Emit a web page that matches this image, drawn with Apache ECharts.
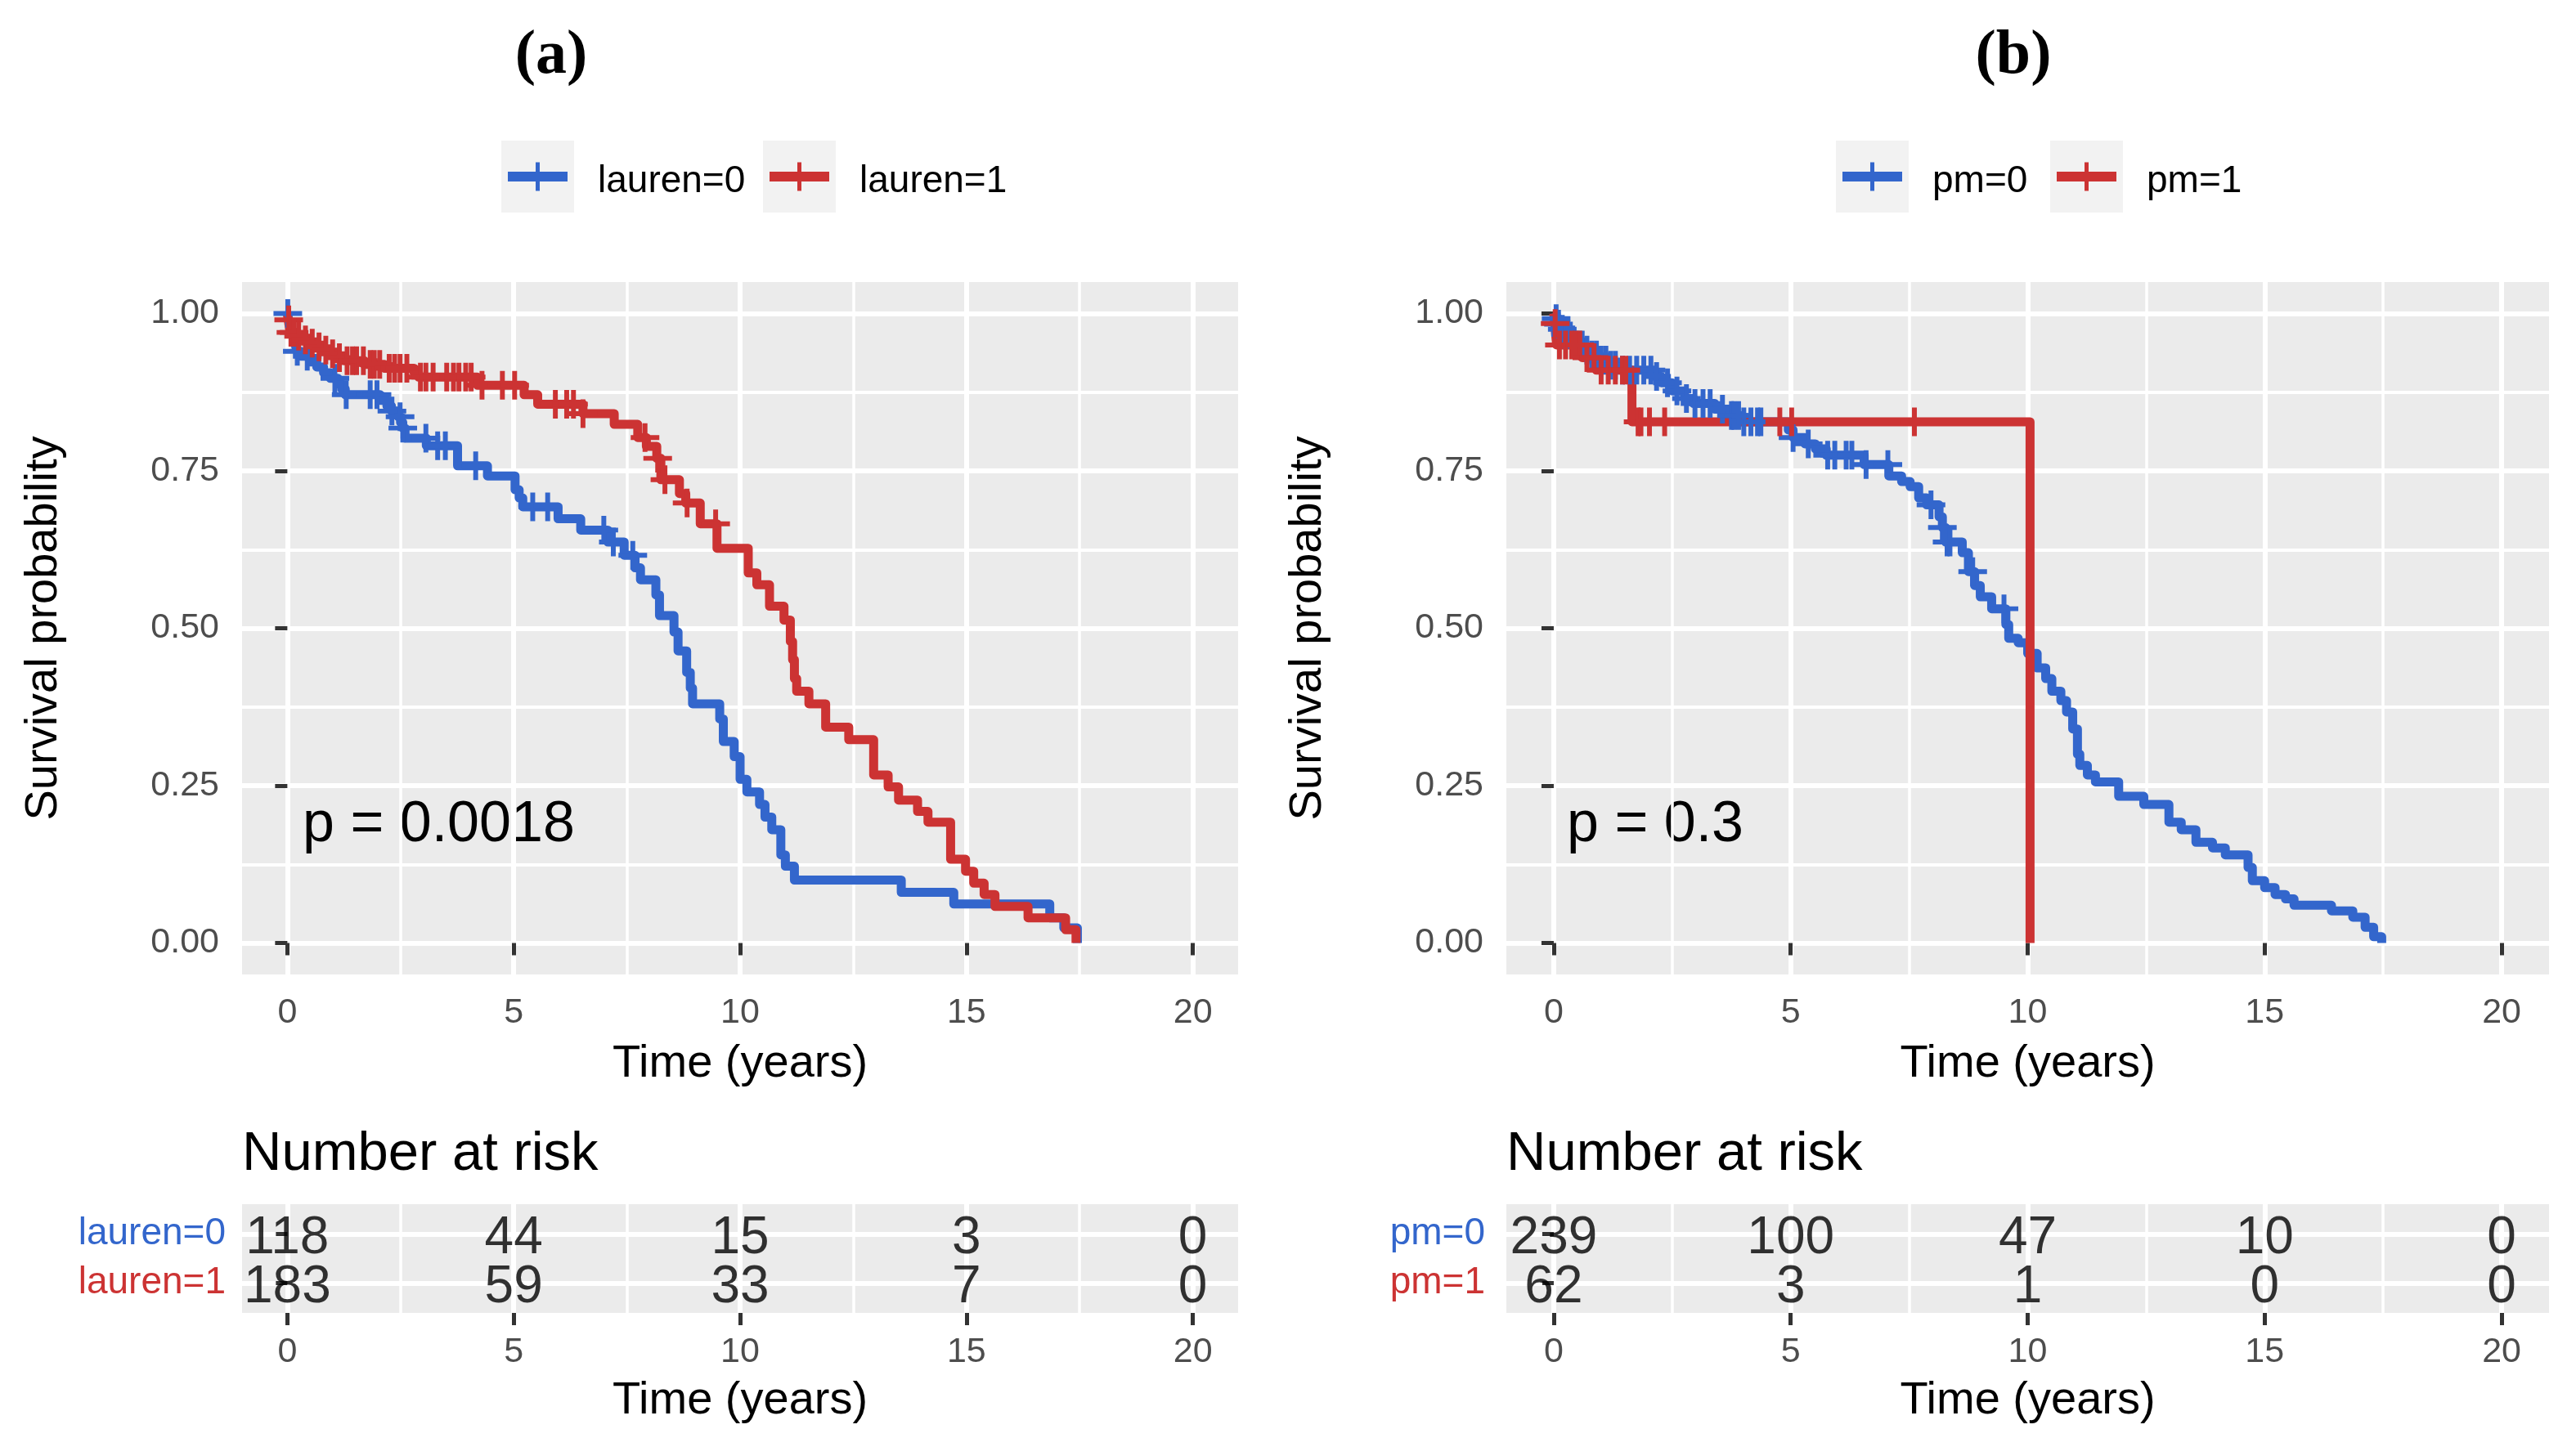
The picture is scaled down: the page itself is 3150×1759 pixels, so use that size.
<!DOCTYPE html>
<html>
<head>
<meta charset="utf-8">
<script src="https://cdn.jsdelivr.net/npm/echarts@6/dist/echarts.min.js"></script>
<style>html,body{margin:0;padding:0;background:#fff}#c{width:3150px;height:1759px}</style>
</head>
<body>
<div id="c"></div>
<script>
// ---------------- DATA ----------------
const timeTicks = [0, 5, 10, 15, 20];
const timeMinorTicks = [2.5, 7.5, 12.5, 17.5];
const survTicks = [0, 0.25, 0.5, 0.75, 1];
const survMinorTicks = [0.125, 0.375, 0.625, 0.875];

// Panel (a): lauren
const lauren0Time = [0,0.03,0.06,0.09,0.12,0.15,0.18,0.21,0.3,0.5,0.65,0.8,0.95,1.12,1.2,1.28,2.05,2.2,2.3,2.45,2.5,2.55,2.6,3.07,3.76,4.42,5.03,5.12,5.2,5.98,6.48,7.08,7.44,7.68,7.8,8.14,8.22,8.54,8.63,8.82,8.9,8.95,9.55,9.63,9.87,10.0,10.15,10.43,10.55,10.7,10.9,11.0,11.2,13.56,14.72,16.84,17.15,17.45];
const lauren0Surv = [1,0.991,0.983,0.974,0.966,0.957,0.949,0.94,0.932,0.923,0.915,0.906,0.897,0.888,0.88,0.871,0.862,0.853,0.845,0.836,0.827,0.818,0.802,0.79,0.758,0.742,0.72,0.707,0.693,0.674,0.656,0.637,0.616,0.596,0.577,0.553,0.52,0.494,0.464,0.43,0.405,0.38,0.356,0.32,0.296,0.26,0.24,0.22,0.2,0.18,0.14,0.122,0.1,0.0805,0.062,0.04,0.024,0];
const lauren0Censor = [0.01,0.22,0.44,1.05,1.3,1.83,1.98,2.31,2.49,2.55,3.06,3.32,3.49,4.16,5.42,5.75,6.99,7.2,7.63];

const lauren1Time = [0,0.02,0.04,0.06,0.2,0.35,0.5,0.65,0.8,0.95,1.1,1.25,1.7,2.15,2.8,2.9,4.2,5.23,5.53,6.53,7.22,7.74,7.93,8.16,8.25,8.66,8.8,9.12,9.49,10.18,10.37,10.65,10.97,11.11,11.16,11.2,11.25,11.52,11.89,12.4,12.95,13.27,13.5,13.92,14.15,14.65,14.98,15.16,15.39,15.63,16.36,17.19,17.42];
const lauren1Surv = [1,0.99,0.98,0.97,0.964,0.958,0.953,0.947,0.942,0.936,0.93,0.925,0.919,0.913,0.906,0.899,0.886,0.871,0.856,0.841,0.824,0.803,0.789,0.77,0.736,0.714,0.699,0.666,0.627,0.588,0.569,0.535,0.513,0.479,0.45,0.42,0.4,0.38,0.343,0.323,0.267,0.248,0.227,0.209,0.192,0.133,0.114,0.095,0.077,0.058,0.04,0.021,0];
const lauren1Censor = [0.03,0.08,0.15,0.25,0.4,0.55,0.7,0.85,1.0,1.15,1.32,1.44,1.53,1.68,1.83,1.92,2.04,2.25,2.37,2.49,2.64,2.94,3.06,3.22,3.52,3.67,3.79,3.94,4.06,4.3,4.75,5.02,5.92,6.17,6.32,6.53,7.9,8.18,8.34,8.83,9.46];

// Panel (b): pm
const pm0Time = [0,0.05,0.1,0.15,0.25,0.35,0.5,0.65,0.8,0.95,1.15,1.4,2.13,2.27,2.5,2.76,2.95,3.4,3.75,3.95,4.95,5.05,5.3,5.52,5.75,6.55,7.07,7.34,7.52,7.7,7.87,8.13,8.2,8.27,8.62,8.75,8.88,9.0,9.24,9.54,9.6,9.8,10.0,10.2,10.38,10.51,10.7,10.82,10.95,11.05,11.1,11.26,11.43,11.92,12.45,12.98,13.24,13.55,13.9,14.17,14.65,14.74,15.0,15.22,15.44,15.62,16.41,16.86,17.12,17.3,17.47];
const pm0Surv = [1,0.992,0.983,0.975,0.967,0.958,0.95,0.942,0.934,0.926,0.918,0.91,0.9,0.89,0.877,0.865,0.857,0.848,0.838,0.828,0.815,0.803,0.793,0.785,0.775,0.76,0.742,0.733,0.725,0.707,0.696,0.677,0.66,0.637,0.62,0.59,0.568,0.55,0.531,0.506,0.484,0.477,0.46,0.437,0.42,0.4,0.385,0.367,0.34,0.3,0.282,0.267,0.256,0.233,0.22,0.192,0.18,0.16,0.151,0.14,0.12,0.099,0.088,0.077,0.07,0.06,0.051,0.041,0.025,0.01,0];
const pm0Censor = [0.05,0.1,0.18,0.25,0.3,0.4,0.5,0.6,0.7,0.8,0.9,1.0,1.1,1.2,1.3,1.45,1.6,1.75,1.9,2.05,2.17,2.4,2.6,2.8,2.98,3.15,3.3,3.56,3.75,3.8,3.9,4.01,4.16,4.3,4.37,5.05,5.37,5.78,5.93,6.17,6.29,6.59,7.05,7.96,8.2,8.3,8.36,8.84,9.5];

const pm1Time = [0,0.02,0.04,0.06,0.6,0.9,1.65,10.05];
const pm1Surv = [1,0.984,0.967,0.95,0.93,0.91,0.828,0];
const pm1Censor = [0.03,0.12,0.25,0.38,0.46,0.55,0.7,0.85,1.0,1.15,1.3,1.45,1.52,1.78,1.84,2.02,2.34,4.77,5.02,7.61];

// Number at risk tables
const riskTimes = [0, 5, 10, 15, 20];
const riskLauren0 = [118, 44, 15, 3, 0];
const riskLauren1 = [183, 59, 33, 7, 0];
const riskPm0 = [239, 100, 47, 10, 0];
const riskPm1 = [62, 3, 1, 0, 0];

const groupNamesA = ['lauren=0', 'lauren=1'];
const groupNamesB = ['pm=0', 'pm=1'];
const pValueA = 'p = 0.0018';
const pValueB = 'p = 0.3';

// ---------------- STYLE ----------------
const FONT = 'Liberation Sans';
const BLUE = '#3366CC';
const RED = '#CC3333';
const PANEL = '#EBEBEB';
const PLUS = 'path://M-1.7,-10L1.7,-10L1.7,-1.7L10,-1.7L10,1.7L1.7,1.7L1.7,10L-1.7,10L-1.7,1.7L-10,1.7L-10,-1.7L-1.7,-1.7Z';

function survAt(times, survs, t) {
  let s = survs[0];
  for (let i = 0; i < times.length; i++) { if (times[i] <= t) s = survs[i]; else break; }
  return s;
}
function zip(a, b) { return a.map((v, i) => [v, b[i]]); }

const panels = [
  {left: 296, width: 1218, names: groupNamesA, g0: [lauren0Time, lauren0Surv, lauren0Censor], g1: [lauren1Time, lauren1Surv, lauren1Censor], risk: [riskLauren0, riskLauren1], p: pValueA,
   title: '(a)', titleX: 674, legendKeys: [613, 933], labelMargin: 20},
  {left: 1842, width: 1275, names: groupNamesB, g0: [pm0Time, pm0Surv, pm0Censor], g1: [pm1Time, pm1Surv, pm1Censor], risk: [riskPm0, riskPm1], p: pValueB,
   title: '(b)', titleX: 2462, legendKeys: [2245, 2507], labelMargin: 26}
];

const grid = [], xAxis = [], yAxis = [], series = [], graphic = [];
const tickStyle = {color: '#333333', width: 5};
const axisNameStyle = {fontSize: 56, color: '#000', fontFamily: FONT};
const tickLabelStyle = {color: '#4D4D4D', fontSize: 43, fontFamily: FONT};

panels.forEach((P, pi) => {
  const gPlot = grid.length;
  grid.push({left: P.left, top: 345, width: P.width, height: 847, show: true, backgroundColor: PANEL, borderWidth: 0, containLabel: false});
  const gTab = grid.length;
  grid.push({left: P.left, top: 1473, width: P.width, height: 133, show: true, backgroundColor: PANEL, borderWidth: 0, containLabel: false});

  // plot x axes
  const xPlot = xAxis.length;
  xAxis.push({type: 'value', gridIndex: gPlot, min: -1, max: 21, position: 'bottom', z: 0,
    axisLine: {show: false},
    axisTick: {show: true, length: 15, lineStyle: tickStyle, customValues: timeTicks},
    axisLabel: Object.assign({show: true, customValues: timeTicks, margin: 26}, tickLabelStyle),
    splitLine: {show: true, lineStyle: {color: '#FFFFFF', width: 6}},
    name: 'Time (years)', nameLocation: 'middle', nameGap: 82, nameTextStyle: axisNameStyle});
  xAxis.push({type: 'value', gridIndex: gPlot, min: -1, max: 21, position: 'top', z: 0,
    axisLine: {show: false}, axisTick: {show: false, customValues: timeMinorTicks}, axisLabel: {show: false},
    splitLine: {show: true, lineStyle: {color: '#FFFFFF', width: 3.5}}});
  // plot y axes
  const yPlot = yAxis.length;
  yAxis.push({type: 'value', gridIndex: gPlot, min: -0.05, max: 1.05, position: 'left', z: 0,
    axisLine: {show: false},
    axisTick: {show: true, length: 15, lineStyle: tickStyle, customValues: survTicks},
    axisLabel: Object.assign({show: true, customValues: survTicks, margin: 28, formatter: v => Number(v).toFixed(2)}, tickLabelStyle),
    splitLine: {show: true, lineStyle: {color: '#FFFFFF', width: 6}},
    name: 'Survival probability', nameLocation: 'middle', nameGap: 214, nameRotate: 90, nameTextStyle: axisNameStyle});
  yAxis.push({type: 'value', gridIndex: gPlot, min: -0.05, max: 1.05, position: 'right', z: 0,
    axisLine: {show: false}, axisTick: {show: false, customValues: survMinorTicks}, axisLabel: {show: false},
    splitLine: {show: true, lineStyle: {color: '#FFFFFF', width: 4}}});

  // table axes
  const xTab = xAxis.length;
  xAxis.push({type: 'value', gridIndex: gTab, min: -1, max: 21, position: 'bottom', z: 0,
    axisLine: {show: false},
    axisTick: {show: true, length: 15, lineStyle: tickStyle, customValues: timeTicks},
    axisLabel: Object.assign({show: true, customValues: timeTicks, margin: 27}, tickLabelStyle),
    splitLine: {show: true, lineStyle: {color: '#FFFFFF', width: 6}},
    name: 'Time (years)', nameLocation: 'middle', nameGap: 80, nameTextStyle: axisNameStyle});
  xAxis.push({type: 'value', gridIndex: gTab, min: -1, max: 21, position: 'top', z: 0,
    axisLine: {show: false}, axisTick: {show: false, customValues: timeMinorTicks}, axisLabel: {show: false},
    splitLine: {show: true, lineStyle: {color: '#FFFFFF', width: 3.5}}});
  const yTab = yAxis.length;
  yAxis.push({type: 'value', gridIndex: gTab, min: 0.4, max: 2.6, position: 'left', z: 0,
    axisLine: {show: false},
    axisTick: {show: true, length: 14, lineStyle: tickStyle, customValues: [1, 2]},
    axisLabel: {show: true, customValues: [1, 2], margin: P.labelMargin, fontSize: 46, fontFamily: FONT,
      formatter: v => (Math.round(v) === 2 ? P.names[0] : P.names[1]),
      color: v => (Math.round(Number(v)) === 2 ? BLUE : RED)},
    splitLine: {show: true, lineStyle: {color: '#FFFFFF', width: 6}}});

  // curves
  const groups = [[P.g0, BLUE, P.names[0]], [P.g1, RED, P.names[1]]];
  groups.forEach(([g, col, nm], gi) => {
    series.push({type: 'line', name: nm, xAxisIndex: xPlot, yAxisIndex: yPlot, step: 'end', showSymbol: false,
      data: zip(g[0], g[1]), lineStyle: {color: col, width: 11, join: 'round', cap: 'butt'}, itemStyle: {color: col},
      z: 2 + gi, silent: true, animation: false});
  });
  groups.forEach(([g, col, nm], gi) => {
    series.push({type: 'scatter', name: nm + ' censor', xAxisIndex: xPlot, yAxisIndex: yPlot,
      data: g[2].map(t => [t, survAt(g[0], g[1], t)]), symbol: PLUS, symbolSize: 35,
      itemStyle: {color: col, opacity: 1}, z: 4 + gi, silent: true, animation: false});
  });
  // risk table
  P.risk.forEach((arr, ri) => {
    series.push({type: 'scatter', name: P.names[ri] + ' at risk', xAxisIndex: xTab, yAxisIndex: yTab,
      data: riskTimes.map((t, i) => [t, 2 - ri, arr[i]]), symbolSize: 1, itemStyle: {color: 'rgba(0,0,0,0)'},
      label: {show: true, position: 'inside', offset: [0, 6], formatter: p => String(p.value[2]), fontSize: 64, fontFamily: FONT, color: '#000'},
      z: 8, zlevel: 1, silent: true, animation: false});
  });

  // texts
  graphic.push({type: 'text', x: P.titleX, y: 69, style: {text: P.title, font: 'bold 76px "Liberation Serif"', fill: '#000', align: 'center', verticalAlign: 'middle', textAlign: 'center', textVerticalAlign: 'middle'}});
  graphic.push({type: 'text', x: P.left + 74, y: 1010, style: {text: P.p, font: '70px "Liberation Sans"', fill: '#000', align: 'left', verticalAlign: 'middle', textAlign: 'left', textVerticalAlign: 'middle'}});
  graphic.push({type: 'text', x: P.left, y: 1413, style: {text: 'Number at risk', font: '67px "Liberation Sans"', fill: '#000', align: 'left', verticalAlign: 'middle', textAlign: 'left', textVerticalAlign: 'middle'}});
  // legend
  P.legendKeys.forEach((kx, ki) => {
    const col = ki === 0 ? BLUE : RED;
    graphic.push({type: 'rect', shape: {x: kx, y: 172, width: 89, height: 88}, style: {fill: '#F2F2F2'}});
    graphic.push({type: 'rect', shape: {x: kx + 8, y: 210, width: 73, height: 12}, style: {fill: col}});
    graphic.push({type: 'rect', shape: {x: kx + 42, y: 198.5, width: 5, height: 35}, style: {fill: col}});
    graphic.push({type: 'text', x: kx + 118, y: 222, style: {text: P.names[ki], font: '46px "Liberation Sans"', fill: '#000', align: 'left', verticalAlign: 'middle', textAlign: 'left', textVerticalAlign: 'middle'}});
  });
});

const chart = echarts.init(document.getElementById('c'), null, {renderer: 'canvas'});
chart.setOption({
  animation: false,
  backgroundColor: '#FFFFFF',
  textStyle: {fontFamily: FONT},
  grid, xAxis, yAxis, series, graphic
});
</script>
</body>
</html>
